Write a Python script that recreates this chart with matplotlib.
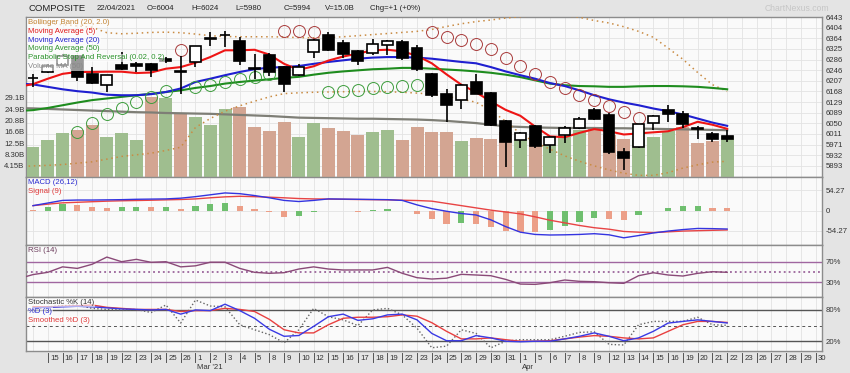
import numpy as np
import matplotlib
matplotlib.use('Agg')
import matplotlib.pyplot as plt
from matplotlib.transforms import blended_transform_factory

plt.rcParams['font.family'] = ['Liberation Sans', 'DejaVu Sans']

nan = np.nan
# ---------------- data ----------------
feb_days = ['15', '16', '17', '18', '19', '22', '23', '24', '25', '26']
mar_days = ['1', '2', '3', '4', '5', '8', '9', '10', '12', '15', '16', '17', '18', '19',
            '22', '23', '24', '25', '26', '29', '30', '31']
apr_days = ['1', '5', '6', '7', '8', '9', '12', '13', '14', '15', '16', '19', '20', '21',
            '22', '23', '26', '27', '28', '29', '30']
month_labels = {"Mar '21": 11, 'Apr': 33}

opens = [6219, 6240, 6265, 6298, 6233, 6193, 6267, 6270, 6270, 6288, 6244, 6277, 6363, 6376,
         6354, 6255, 6303, 6258, 6228, 6313, 6375, 6348, 6318, 6310, 6340, 6349, 6330, 6234,
         6160, 6136, 6203, 6164, 6060, 5988, 6040, 5970, 6008, 6033, 6099, 6080, 5945, 5961,
         6053, 6101, 6083, 6034, 6010, 6004]
highs = [6233, 6268, 6305, 6300, 6258, 6229, 6313, 6278, 6272, 6295, 6300, 6336, 6386, 6392,
         6370, 6308, 6310, 6262, 6270, 6361, 6387, 6357, 6322, 6360, 6357, 6359, 6340, 6237,
         6176, 6194, 6234, 6166, 6062, 6019, 6044, 5999, 6041, 6074, 6107, 6090, 5958, 6048,
         6080, 6117, 6095, 6040, 6020, 6024]
lows = [6184, 6236, 6258, 6206, 6195, 6166, 6249, 6240, 6222, 6272, 6160, 6258, 6336, 6333,
        6264, 6215, 6225, 6165, 6225, 6293, 6318, 6292, 6264, 6304, 6304, 6283, 6242, 6148,
        6056, 6102, 6158, 6040, 5889, 5958, 5960, 5940, 5977, 6030, 6064, 5936, 5878, 5960,
        6025, 6056, 6034, 5994, 5982, 5980]
closes = [6217, 6262, 6298, 6220, 6198, 6228, 6250, 6263, 6246, 6279, 6241, 6335, 6366, 6378,
          6280, 6250, 6240, 6195, 6258, 6358, 6320, 6305, 6279, 6345, 6356, 6292, 6250, 6154,
          6117, 6193, 6160, 6045, 5983, 6013, 5965, 5998, 6032, 6068, 6066, 5943, 5923, 6046,
          6078, 6083, 6046, 6029, 5993, 5994]
volume_b = [11.1, 13.6, 16.1, 17.3, 19.1, 14.6, 16.1, 13.6, 29.5, 28.9, 23.6, 22.1, 19.1, 25.0,
            25.6, 18.5, 17.0, 20.1, 14.8, 19.7, 18.1, 16.9, 15.4, 16.6, 17.3, 13.6, 18.3, 16.4,
            16.6, 13.3, 14.2, 14.0, 16.5, 14.0, 15.0, 11.8, 14.8, 17.3, 17.9, 15.5, 14.0, 13.5,
            14.8, 17.0, 18.5, 12.4, 13.1, 15.0]
volume_dir = list("uuudduuudu" "duuudddduu" "ddduuddddu" "ddduduuudd" "duuudddu")

# line series start one session earlier (index -1), partly visible at the left edge
ma5 = [6185, 6195, 6215, 6233, 6240, 6240, 6241, 6241, 6236, 6238, 6252, 6258, 6274, 6295,
       6320, 6320, 6322, 6304, 6270, 6248, 6261, 6282, 6297, 6308, 6320, 6322, 6316, 6300,
       6272, 6231, 6193, 6165, 6131, 6100, 6078, 6038, 6002, 5999, 6015, 6029, 6021, 6009,
       6013, 6017, 6021, 6036, 6056, 6045, 6030]
ma20 = [6197, 6194, 6185, 6176, 6169, 6164, 6156, 6154, 6154, 6158, 6166, 6179, 6203, 6215,
        6228, 6240, 6250, 6256, 6258, 6262, 6270, 6277, 6283, 6289, 6293, 6295, 6295, 6293,
        6289, 6283, 6277, 6272, 6258, 6242, 6228, 6215, 6199, 6188, 6172, 6154, 6139, 6127,
        6117, 6105, 6095, 6083, 6068, 6053, 6041]
ma50 = [6096, 6099, 6107, 6117, 6127, 6136, 6142, 6148, 6154, 6159, 6166, 6172, 6181, 6188,
        6197, 6203, 6208, 6213, 6218, 6222, 6230, 6237, 6242, 6246, 6250, 6252, 6255, 6255,
        6252, 6249, 6246, 6242, 6237, 6230, 6221, 6209, 6197, 6191, 6188, 6187, 6185, 6185,
        6187, 6188, 6188, 6187, 6185, 6181, 6176]
bb_upper = [6422, 6420, 6418, 6415, 6410, 6405, 6385, 6381, 6383, 6386, 6387, 6385, 6380, 6374,
            6371, 6370, 6370, 6370, 6369, 6367, 6366, 6367, 6370, 6374, 6378, 6382, 6386, 6390,
            6397, 6408, 6418, 6426, 6432, 6439, 6444, 6448, 6450, 6448, 6442, 6430, 6421, 6407,
            6390, 6368, 6328, 6287, 6238, 6193, 6168]
bb_lower = [5890, 5893, 5895, 5898, 5903, 5908, 5918, 5928, 5934, 5940, 5950, 5962, 6035, 6068,
            6095, 6115, 6132, 6148, 6160, 6163, 6165, 6166, 6167, 6168, 6168, 6167, 6165, 6162,
            6158, 6150, 6140, 6128, 6098, 6058, 6012, 5980, 5955, 5930, 5910, 5893, 5878, 5866,
            5858, 5858, 5868, 5885, 5897, 5907, 5910]
volume_ma_b = [25.3, 25.2, 25.0, 24.8, 24.6, 24.4, 24.2, 24.0, 23.8, 23.7, 23.5, 23.4, 23.3,
               23.2, 23.0, 22.8, 22.6, 22.4, 22.1, 21.8, 21.7, 21.6, 21.5, 21.4, 21.4, 21.3,
               21.2, 21.1, 20.9, 20.6, 20.2, 19.8, 19.2, 18.6, 18.4, 18.2, 18.1, 18.0, 18.0,
               18.0, 17.9, 17.9, 17.8, 17.7, 17.6, 17.5, 17.4, 17.3, 17.2]
psar = [nan, nan, nan, 6019, 6051, 6083, 6108, 6129, 6149, 6168, 6322, 6186, 6192, 6203, 6213,
        6223, 6231, 6392, 6391, 6388, 6166, 6169, 6172, 6179, 6184, 6188, 6191, 6388, 6370,
        6357, 6342, 6325, 6292, 6262, 6231, 6203, 6180, 6156, 6136, 6115, 6093, 6071,
        nan, nan, nan, nan, nan, nan]
psar_side = list("xxx" "ggggggg" "r" "gggggg" "rrr" "ggggggg" "rrrrrrrrrrrrrrr" "xxxxxx")

macd = [13, 20, 27, 28, 28, 28.5, 29, 30, 30.5, 31, 33, 37, 42, 47, 45, 40, 34, 27, 24, 27, 31,
        30.5, 30, 29.5, 29, 27, 15, 5, -2, -8, -12, -25, -43, -58, -64, -65.5, -65, -64, -62,
        -65, -73, -67, -60, -55, -51, -48, -48.5, -49.5]
signal = [13, 17, 20.5, 22, 23.5, 25, 26, 26.7, 27.5, 28.5, 29.4, 31, 34, 36.5, 38, 37, 35.6,
          34, 32, 31, 30.5, 30, 29.4, 29, 28.5, 27.5, 26.7, 25, 19, 13, 7, 1, -4, -9, -17, -26,
          -33, -40, -46, -50, -56, -58, -59, -57, -55, -54, -53, -52]
macd_hist = [0.5, 8.9, 17.8, 14.3, 8.9, 7.1, 8.9, 10.7, 8.9, 10.7, 5.3, 12.5, 17.8, 20.5, 12.5,
             4.5, -4.5, -17, -15, -3.6, -1.8, -0.8, -5.3, 0.6, 3.6, -1.5, -8.9, -24, -35.6,
             -34.7, -36, -43.7, -55, -57, -58, -53, -42, -30, -19.6, -24, -26.7, -12.5, -1.5,
             7, 11.6, 12.5, 7, 6.2]
hist_dir = list("duuddduudu" "duuudddduu" "uuduuddddu" "ddddduuuud" "duuuuudd")

rsi = [37, 45, 49.4, 60, 57, 65, 79, 70, 74.6, 68.8, 70, 60, 62, 69, 69, 57, 49.4, 47.5, 48.7,
       55.8, 60, 55.8, 53.9, 54, 54, 59, 47.5, 39, 36.4, 38, 45.5, 44.2, 42.8, 35.7, 26.6, 26,
       29.2, 34.5, 31.9, 31.2, 29.2, 28, 42.8, 48.6, 44.2, 42.2, 47.4, 50.6, 49.4]
stoch_k = [80, 86, 88, 89.5, 83, 81, 80, 81, 75, 89.5, 55, 99, 87.6, 86, 51.6, 42, 32.7, 17, 42,
           83, 67, 61, 50, 80, 83, 70.5, 45, 7.5, 10.6, 42, 35, 7.5, 20, 23, 23, 23, 29.5, 37,
           38, 14, 12.8, 51.6, 58, 58, 58, 66, 51.6, 50.6]
stoch_d = [84, 85, 86, 87, 86, 84, 82, 81, 80, 81, 72, 80, 78.7, 91, 78.7, 64, 43, 29.5, 31,
           48.5, 67, 72, 60, 63, 70.5, 72, 61, 35, 21, 21, 30.8, 26.4, 20, 19, 20, 20, 24.5,
           29.5, 36, 29.5, 21, 26.4, 39, 54.8, 58, 61, 58, 55]
stoch_sd = [86, 86, 87, 88, 89.5, 85, 83, 81, 81, 81, 77, 78.7, 78.7, 83, 81, 77, 62, 42, 36,
            36, 51.6, 64, 66, 66, 67, 70.5, 68, 55.6, 39, 24.5, 24.5, 26.4, 23, 20, 20, 21, 24.5,
            28, 30.8, 29.5, 26.4, 24.5, 26.4, 39, 51.6, 58, 58, 56]

price_ticks = [5893, 5932, 5971, 6011, 6050, 6089, 6129, 6168, 6207, 6246, 6286, 6325, 6364,
               6404, 6443]
vol_ticks = [4.15, 8.30, 12.45, 16.6, 20.75, 24.9, 29.05]
vol_tick_labels = ['4.15B', '8.30B', '12.5B', '16.6B', '20.8B', '24.9B', '29.1B']

# ---------------- styling ----------------
W, H = 850, 373
BG = '#e4e4e4'
PANEL = '#fafafa'
GRID = '#e3e3e3'
SPINE = '#8c8c8c'
TXT = '#333333'
FS = 5.6

fig = plt.figure(figsize=(W / 100, H / 100), dpi=100, facecolor=BG)


def rect(x0, y0, x1, y1):
    return [x0 / W, 1 - y1 / H, (x1 - x0) / W, (y1 - y0) / H]


LEFT, RIGHT = 26, 822
n = len(closes)
xs = np.arange(n)
lx = np.arange(-1, n)
slots = np.arange(0, 54)
xlim = (-0.474, 53.42)


def panel(y0, y1):
    ax = fig.add_axes(rect(LEFT, y0, RIGHT, y1))
    ax.set_facecolor(PANEL)
    ax.set_xlim(*xlim)
    for s in ax.spines.values():
        s.set_color(SPINE)
        s.set_linewidth(1.0)
    ax.set_xticks(slots)
    ax.tick_params(axis='x', length=0, labelbottom=False)
    ax.grid(True, axis='x', color=GRID, lw=0.6)
    ax.set_axisbelow(True)
    return ax


# main panel: grid layer, volume layer, price layer
ax_g = panel(17, 177)
ax_g.set_ylim(5852, 6443)
ax_g.set_yticks(price_ticks)
ax_g.tick_params(axis='y', length=0, labelleft=False)
ax_g.grid(True, axis='y', color=GRID, lw=0.6)

ax_v = fig.add_axes(rect(LEFT, 17, RIGHT, 177))
ax_v.patch.set_visible(False)
ax_v.set_xlim(*xlim)
ax_v.set_ylim(0, 58.76)
for s in ax_v.spines.values():
    s.set_visible(False)
ax_v.set_xticks([])
ax_v.set_yticks(vol_ticks)
ax_v.set_yticklabels(vol_tick_labels, fontsize=FS, color=TXT)
ax_v.tick_params(axis='y', length=0, pad=1.0)
vcol = ['#9fbe8f' if d == 'u' else '#d3a592' for d in volume_dir]
ax_v.bar(xs, volume_b, width=0.88, color=vcol, zorder=2)
ax_v.plot(lx, volume_ma_b, color='#7e7e76', lw=1.6, zorder=3)

ax_p = fig.add_axes(rect(LEFT, 17, RIGHT, 177))
ax_p.patch.set_visible(False)
ax_p.set_xlim(*xlim)
ax_p.set_ylim(5852, 6443)
for s in ax_p.spines.values():
    s.set_visible(False)
ax_p.set_xticks([])
ax_p.yaxis.tick_right()
ax_p.set_yticks(price_ticks)
ax_p.set_yticklabels([str(t) for t in price_ticks], fontsize=FS, color=TXT)
ax_p.tick_params(axis='y', length=0, pad=2.7)

ax_p.plot(lx, bb_upper, color='#c98b43', lw=1.1, ls=(0, (1, 2.4)), zorder=2)
ax_p.plot(lx, bb_lower, color='#c98b43', lw=1.1, ls=(0, (1, 2.4)), zorder=2)
ax_p.plot(lx, ma50, color='#1e8c1e', lw=1.5, zorder=3)
ax_p.plot(lx, ma20, color='#1f1fd0', lw=1.5, zorder=3)
ax_p.plot(lx, ma5, color='#ee1515', lw=1.5, zorder=3)

ps = np.array(psar, dtype=float)
side = np.array(psar_side)
for key, col in (('g', '#3c9c3c'), ('r', '#a83a3a')):
    m = side == key
    ax_p.plot(xs[m], ps[m], ls='none', marker='o', ms=8.6, mfc='none', mec=col, mew=0.7, zorder=4)

o = np.array(opens, float)
h = np.array(highs, float)
l = np.array(lows, float)
c = np.array(closes, float)
ax_p.vlines(xs, l, h, color='black', lw=1.2, zorder=5)
body_bottom = np.minimum(o, c)
body_h = np.maximum(np.abs(c - o), 0.6)
bcol = ['white' if cc > oo else 'black' for oo, cc in zip(o, c)]
ax_p.bar(xs, body_h, bottom=body_bottom, width=0.74, color=bcol, edgecolor='black', lw=1.2, zorder=6)


def ftext(x, y, s, **kw):
    kw.setdefault('fontsize', FS)
    kw.setdefault('va', 'center')
    kw.setdefault('ha', 'left')
    return fig.text(x / W, 1 - y / H, s, **kw)


wash = dict(facecolor='white', alpha=0.6, edgecolor='none', pad=0.6)
legend_rows = [('Bollinger Band (20, 2.0)', '#c48636'), ('Moving Average (5)', '#e01818'),
               ('Moving Average (20)', '#2020cc'), ('Moving Average (50)', '#2a922a'),
               ('Parabolic Stop And Reversal (0.02, 0.2)', '#2a922a'), ('Volume MA (50)', '#8a8a8a')]
for k, (s, col) in enumerate(legend_rows):
    ftext(28, 22.3 + 8.9 * k, s, color=col, bbox=wash)

# header
ftext(28, 8.5, 'COMPOSITE', fontsize=6.8, color='#222222')
for xp, s in ((97, '22/04/2021'), (146.5, 'O=6004'), (191.5, 'H=6024'), (235, 'L=5980'),
              (284, 'C=5994'), (325, 'V=15.0B'), (370, 'Chg=+1 (+0%)')):
    ftext(xp, 8.5, s, color='#222222')
ftext(765, 8.3, 'ChartNexus.com', color='#c6c6c6', fontsize=6.2)

# MACD panel
ax_m = panel(177, 244.5)
ax_m.set_ylim(-90.9, 89.6)
ax_m.yaxis.tick_right()
ax_m.set_yticks([54.27, 0, -54.27])
ax_m.set_yticklabels(['54.27', '0', '-54.27'], fontsize=FS, color=TXT)
ax_m.tick_params(axis='y', length=0, pad=2.7)
ax_m.grid(True, axis='y', color=GRID, lw=0.6)
hcol = ['#6fbf6f' if d == 'u' else '#ec9f88' for d in hist_dir]
ax_m.bar(xs, macd_hist, width=0.42, color=hcol, zorder=2)
ax_m.plot(xs, signal, color='#e84444', lw=1.0, zorder=3)
ax_m.plot(xs, macd, color='#3434e0', lw=1.0, zorder=3)
ftext(28, 183, 'MACD (26,12)', color='#2a2ad0')
ftext(28, 191.5, 'Signal (9)', color='#e03a3a')

# RSI panel
ax_r = panel(244.5, 297)
ax_r.set_ylim(1.5, 103.4)
ax_r.yaxis.tick_right()
ax_r.set_yticks([70, 30])
ax_r.set_yticklabels(['70%', '30%'], fontsize=FS, color=TXT)
ax_r.tick_params(axis='y', length=0, pad=2.7)
ax_r.axhline(70, color='#a066a0', lw=1.0)
ax_r.axhline(30, color='#a066a0', lw=1.0)
ax_r.axhline(50, color='#8a4a8a', lw=1.1, ls=(0, (1.2, 2)))
ax_r.plot(lx, rsi, color='#8a4a78', lw=1.0, zorder=3)
ftext(28, 250, 'RSI (14)', color='#6a3a5a')

# Stochastic panel
ax_s = panel(297, 351)
ax_s.set_ylim(1.3, 104.8)
ax_s.yaxis.tick_right()
ax_s.set_yticks([80, 20])
ax_s.set_yticklabels(['80%', '20%'], fontsize=FS, color=TXT)
ax_s.tick_params(axis='y', length=0, pad=2.7)
ax_s.axhline(80, color='#555555', lw=1.0)
ax_s.axhline(20, color='#555555', lw=1.0)
ax_s.axhline(50, color='#555555', lw=0.7, ls=(0, (3, 3)))
ax_s.plot(xs, stoch_k, color='#666666', lw=1.0, ls=(0, (1, 1.6)), zorder=3)
ax_s.plot(xs, stoch_sd, color='#e84040', lw=1.0, zorder=3)
ax_s.plot(xs, stoch_d, color='#3a3ae4', lw=1.0, zorder=3)
ftext(28, 303, 'Stochastic %K (14)', color='#333333', bbox=wash)
ftext(28, 311.5, '%D (3)', color='#2a2ad0', bbox=wash)
ftext(28, 320, 'Smoothed %D (3)', color='#e03a3a', bbox=wash)

# date axis under the last panel
day_labels = feb_days + mar_days + apr_days
tick_slots = np.arange(1, 1 + len(day_labels))
tr = blended_transform_factory(ax_s.transData, ax_s.transAxes)
for sl, lab in zip(tick_slots, day_labels):
    ax_s.plot([sl, sl], [-0.04, -0.2], transform=tr, color='#555555', lw=0.7, clip_on=False)
    ax_s.annotate(lab, xy=(sl, 0), xycoords=tr, xytext=(1.6, -2.6), textcoords='offset points',
                  ha='left', va='top', fontsize=FS, color=TXT, annotation_clip=False)
for lab, sl in month_labels.items():
    ax_s.annotate(lab, xy=(sl, 0), xycoords=tr, xytext=(1.0, -9.6), textcoords='offset points',
                  ha='left', va='top', fontsize=FS, color=TXT, annotation_clip=False)

fig.savefig('out.png', dpi=100, facecolor=BG)
